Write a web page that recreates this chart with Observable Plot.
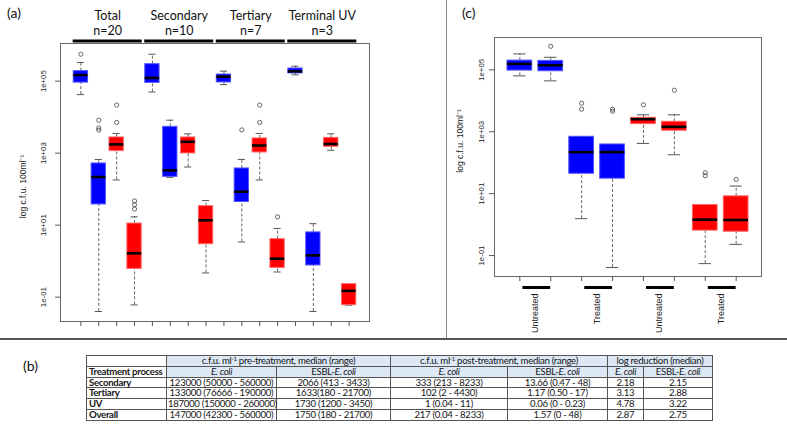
<!DOCTYPE html>
<html>
<head>
<meta charset="utf-8">
<script src="https://cdn.jsdelivr.net/npm/d3@7"></script>
<script src="https://cdn.jsdelivr.net/npm/@observablehq/plot@0.6"></script>
<style>
html,body{margin:0;padding:0;background:#fff;}
#root{position:relative;width:787px;height:435px;overflow:hidden;background:#fff;}
.abs{position:absolute;}
.letter{font-family:Lato,"Open Sans",sans-serif;font-size:14px;color:#111;line-height:14px;}
#vline{left:446px;top:0;width:1px;height:339px;background:#888;}
#hline{left:0;top:338px;width:787px;height:2px;background:#555;}
table{border-collapse:collapse;font-family:Lato,"Open Sans",sans-serif;font-size:9.6px;letter-spacing:-0.3px;color:#151515;table-layout:fixed;width:626px;}
td{border:1px solid #555;height:9.8px;padding:0 1px;line-height:9.8px;white-space:nowrap;text-align:center;overflow:visible;}
td.hd{background:#dce8f5;}
td.rowh{text-align:left;font-weight:bold;padding-left:2px;}
sup{font-size:6px;line-height:0;vertical-align:3px;}
</style>
</head>
<body>
<div id="root"></div>
<script>
// ---------- shared y axis ----------
const yTickVals = [0.1, 10, 1000, 100000];
const yTickLabels = ["1e-01", "1e+01", "1e+03", "1e+05"];
const yLabel = "log c.f.u. 100ml\u207B\u00B9";
const yMin = 10 ** -1.676, yMax = 10 ** 6.046;

// ---------- panel (a) ----------
const aGroups = ["Total", "Secondary", "Tertiary", "Terminal UV"];
const aGroupN = ["n=20", "n=10", "n=7", "n=3"];
const aSeries = ["E. coli pre", "E. coli post", "ESBL-E. coli pre", "ESBL-E. coli post"];
const aLow  = [42300, 0.04, 180, 0.061, 50000, 213, 413, 0.47, 80000, 3.4, 180, 0.5, 150000, 0.04, 1200, 0.06];
const aQ1   = [91000, 37.6, 1140, 0.61, 89700, 220, 982, 2.96, 92000, 44, 1045, 0.65, 164000, 0.76, 1500, 0.06];
const aMed  = [147000, 217, 1750, 1.65, 123000, 333, 2066, 13.66, 133000, 85, 1633, 1.17, 187000, 1.45, 1800, 0.15];
const aQ3   = [190000, 518, 2730, 11.1, 296000, 5380, 2730, 33.7, 153000, 376, 2560, 4.08, 225000, 6.3, 2660, 0.23];
const aHigh = [330000, 668, 3520, 17, 560000, 8233, 3433, 48, 190000, 668, 3520, 8.1, 260000, 11, 3450, 0.23];
const aOut  = [[560000], [8233, 5000, 4370], [21700, 7130], [47, 37, 28], [], [], [], [], [], [4430], [21700, 7130], [17], [], [], [], []];

// ---------- panel (c) ----------
const cGroups = ["Untreated", "Treated", "Untreated", "Treated"];
const cLow  = [64000, 44200, 1.56, 0.041, 420, 181, 0.055, 0.23];
const cQ1   = [94800, 90200, 44, 30.5, 1760, 1080, 0.64, 0.59];
const cMed  = [156000, 141000, 220, 220, 2550, 1450, 1.45, 1.41];
const cQ3   = [200000, 195000, 690, 389, 2830, 2100, 4.3, 8.2];
const cHigh = [328000, 255000, 690, 389, 3530, 3530, 4.3, 17.6];
const cOut  = [[], [577000], [8370, 5360], [5360, 4620], [7430], [22000], [47.5, 38], [28.9]];

// ---------- panel (b) table ----------
const tRows = ["Secondary", "Tertiary", "UV", "Overall"];
const tPreEcoli = ["123000 (50000 - 560000)", "133000 (76666 - 190000)", "187000 (150000 - 260000)", "147000 (42300 - 560000)"];
const tPreEsbl = ["2066 (413 - 3433)", "1633(180 - 21700)", "1730 (1200 - 3450)", "1750 (180 - 21700)"];
const tPostEcoli = ["333 (213 - 8233)", "102 (2 - 4430)", "1 (0.04 - 11)", "217 (0.04 - 8233)"];
const tPostEsbl = ["13.66 (0.47 - 48)", "1.17 (0.50 - 17)", "0.06 (0 - 0.23)", "1.57 (0 - 48)"];
const tLogEcoli = ["2.18", "3.13", "4.78", "2.87"];
const tLogEsbl = ["2.15", "2.88", "3.22", "2.75"];

// ---------- styles ----------
const BLUE = "#0000ff", RED = "#ff0000";
const border = c => c === BLUE ? "#5555ff" : "#ff6666";
const axisFont = "Liberation Sans, Arial, sans-serif";
const labelFont = "Lato, Open Sans, sans-serif";

function boxData(low, q1, med, q3, high, out, colorOf) {
  const boxes = low.map((_, i) => ({pos: i + 1, low: low[i], q1: q1[i], med: med[i], q3: q3[i], high: high[i], fill: colorOf(i)}));
  const outs = out.flatMap((vs, i) => vs.map(v => ({pos: i + 1, v})));
  return {boxes, outs};
}

function boxMarks({boxes, outs}, hw) {
  return [
    Plot.ruleX(boxes, {x: "pos", y1: "q3", y2: "high", stroke: "#555", strokeWidth: 0.9, strokeDasharray: "3,2"}),
    Plot.ruleX(boxes, {x: "pos", y1: "low", y2: "q1", stroke: "#555", strokeWidth: 0.9, strokeDasharray: "3,2"}),
    Plot.ruleY(boxes, {y: "high", x1: d => d.pos - hw / 2, x2: d => d.pos + hw / 2, stroke: "#444", strokeWidth: 0.9}),
    Plot.ruleY(boxes, {y: "low", x1: d => d.pos - hw / 2, x2: d => d.pos + hw / 2, stroke: "#444", strokeWidth: 0.9}),
    Plot.rect(boxes, {x1: d => d.pos - hw, x2: d => d.pos + hw, y1: "q1", y2: "q3", fill: "fill", stroke: d => border(d.fill), strokeWidth: 1}),
    Plot.ruleY(boxes, {y: "med", x1: d => d.pos - hw, x2: d => d.pos + hw, stroke: "#000", strokeWidth: 2.6}),
    Plot.dot(outs, {x: "pos", y: "v", r: 2.1, stroke: "#444", strokeWidth: 0.8, fill: "none"})
  ];
}

function yAxisMarks(tickDx, labelDx, labelDy) {
  return [
    Plot.axisY({ticks: yTickVals, tickSize: 5, tickFormat: () => "", label: null, stroke: "#555"}),
    Plot.text(yTickVals, {y: d => d, text: (d, i) => yTickLabels[i], frameAnchor: "left", dx: tickDx, rotate: -90,
      textAnchor: "middle", lineAnchor: "middle", fontSize: 7.8, fill: "#222", fontFamily: axisFont}),
    Plot.text([yLabel], {text: d => d, frameAnchor: "left", dx: labelDx, dy: labelDy, rotate: -90,
      textAnchor: "middle", lineAnchor: "middle", fontSize: 8.5, fill: "#222", fontFamily: axisFont})
  ];
}

const root = document.getElementById("root");

// panel (a)
const aData = boxData(aLow, aQ1, aMed, aQ3, aHigh, aOut, i => (i % aSeries.length) < 2 ? BLUE : RED);
const per = aSeries.length;
const plotA = Plot.plot({
  width: 446, height: 338,
  marginLeft: 60, marginRight: 77, marginTop: 43, marginBottom: 17,
  x: {domain: [-0.14, aLow.length + 1.14]},
  y: {type: "log", domain: [yMin, yMax]},
  color: {type: "identity"},
  style: {background: "transparent", overflow: "visible"},
  marks: [
    ...boxMarks(aData, 0.4),
    Plot.frame({stroke: "#666"}),
    Plot.axisX({ticks: d3.range(1, aLow.length + 1), tickSize: 5, tickFormat: () => "", label: null, stroke: "#555"}),
    ...yAxisMarks(-17, -37, 4),
    Plot.text(aGroups, {x: (d, i) => i * per + (per + 1) / 2, y: () => yMax, dy: -28, text: d => d,
      fontSize: 12.5, fontFamily: labelFont, fill: "#111", lineAnchor: "middle"}),
    Plot.text(aGroupN, {x: (d, i) => i * per + (per + 1) / 2, y: () => yMax, dy: -13, text: d => d,
      fontSize: 12.5, fontFamily: labelFont, fill: "#111", lineAnchor: "middle"}),
    Plot.ruleY(aGroups, {y: () => yMax, dy: -2.5, x1: (d, i) => i * per + (per + 1) / 2 - 1.93,
      x2: (d, i) => i * per + (per + 1) / 2 + 1.93, stroke: "#000", strokeWidth: 3})
  ]
});
plotA.classList.add("abs");
plotA.style.left = "0px"; plotA.style.top = "0px";
root.appendChild(plotA);

// panel (c)
const cData = boxData(cLow, cQ1, cMed, cQ3, cHigh, cOut, i => i < cLow.length / 2 ? BLUE : RED);
const plotC = Plot.plot({
  width: 340, height: 338,
  marginLeft: 47, marginRight: 26, marginTop: 37, marginBottom: 62,
  x: {domain: [0.18, cLow.length + 0.82]},
  y: {type: "log", domain: [yMin, yMax]},
  color: {type: "identity"},
  style: {background: "transparent", overflow: "visible"},
  marks: [
    ...boxMarks(cData, 0.4),
    Plot.frame({stroke: "#666"}),
    Plot.axisX({ticks: d3.range(1, cLow.length + 1), tickSize: 5, tickFormat: () => "", label: null, stroke: "#555"}),
    ...yAxisMarks(-13, -34, -16),
    Plot.ruleY(cGroups, {y: () => yMin, dy: 11, x1: (d, i) => i * 2 + 1.1, x2: (d, i) => i * 2 + 2.0, stroke: "#000", strokeWidth: 3}),
    Plot.text(cGroups, {x: (d, i) => i * 2 + 1.5, y: () => yMin, dy: 17, text: d => d, rotate: -90,
      textAnchor: "end", lineAnchor: "middle", fontSize: 9, fill: "#222", fontFamily: axisFont})
  ]
});
plotC.classList.add("abs");
plotC.style.left = "447px"; plotC.style.top = "0px";
root.appendChild(plotC);

// separators and panel letters
function div(cls, id, html, left, top) {
  const d = document.createElement("div");
  d.className = cls; if (id) d.id = id;
  if (html) d.innerHTML = html;
  if (left != null) d.style.left = left + "px";
  if (top != null) d.style.top = top + "px";
  root.appendChild(d); return d;
}
div("abs", "vline");
div("abs", "hline");
div("abs letter", null, "(a)", 7, 6);
div("abs letter", null, "(c)", 462, 6);
div("abs letter", null, "(b)", 23, 359);

// table (b)
const colW = [80, 110, 114, 117, 100, 36, 69];
const tbl = document.createElement("table");
tbl.className = "abs"; tbl.style.left = "86px"; tbl.style.top = "355px";
const cg = document.createElement("colgroup");
colW.forEach(w => { const c = document.createElement("col"); c.style.width = w + "px"; cg.appendChild(c); });
tbl.appendChild(cg);
const esbl = "ESBL-<i>E. coli</i>", ec = "<i>E. coli</i>";
let html = "";
html += `<tr><td></td><td class="hd" colspan="2">c.f.u. ml<sup>-1</sup> pre-treatment, median (range)</td>` +
        `<td class="hd" colspan="2">c.f.u. ml<sup>-1</sup> post-treatment, median (range)</td>` +
        `<td class="hd" colspan="2">log reduction (median)</td></tr>`;
html += `<tr><td class="rowh">Treatment process</td><td class="hd">${ec}</td><td class="hd">${esbl}</td>` +
        `<td class="hd">${ec}</td><td class="hd">${esbl}</td><td class="hd">${ec}</td><td class="hd">${esbl}</td></tr>`;
tRows.forEach((r, i) => {
  html += `<tr><td class="rowh">${r}</td><td>${tPreEcoli[i]}</td><td>${tPreEsbl[i]}</td><td>${tPostEcoli[i]}</td>` +
          `<td>${tPostEsbl[i]}</td><td>${tLogEcoli[i]}</td><td>${tLogEsbl[i]}</td></tr>`;
});
const tb = document.createElement("tbody"); tb.innerHTML = html; tbl.appendChild(tb);
root.appendChild(tbl);
</script>
</body>
</html>
